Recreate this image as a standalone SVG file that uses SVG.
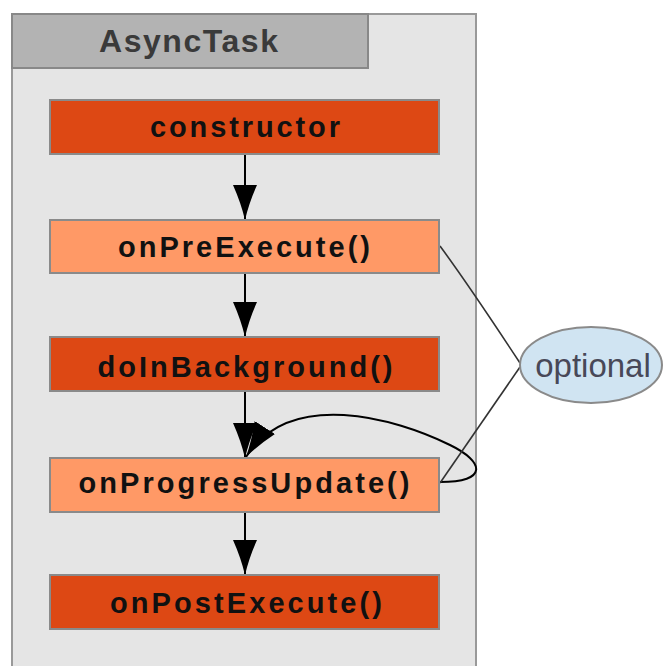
<svg xmlns="http://www.w3.org/2000/svg" width="663" height="666" viewBox="0 0 663 666">
  <style>
    .frame { fill: #e5e5e5; stroke: #999999; stroke-width: 2; }
    .tab { fill: #b3b3b3; stroke: #888888; stroke-width: 2; }
    .tabtxt { font-family: "Liberation Sans", Arial, sans-serif; font-weight: bold; font-size: 32px; fill: #3a3a3a; }
    .dark { fill: #dd4814; stroke: #8a8a8a; stroke-width: 2; }
    .light { fill: #ff9966; stroke: #8a8a8a; stroke-width: 2; }
    .lbl { font-family: "Liberation Sans", Arial, sans-serif; font-weight: bold; font-size: 29px; fill: #111111; text-anchor: middle; }
    .opt { fill: #d0e4f2; stroke: #8a8a8a; stroke-width: 2; }
    .opttxt { font-family: "Liberation Sans", Arial, sans-serif; font-size: 33px; fill: #484858; text-anchor: middle; }
    .flow { fill: none; stroke: #000000; stroke-width: 2; }
    .link { fill: none; stroke: #333333; stroke-width: 1.6; }
  </style>
  <defs>
    <marker id="head" markerUnits="userSpaceOnUse" markerWidth="36" markerHeight="26" refX="35" refY="12" orient="auto">
      <path d="M0,0 Q18,8 35,12 Q18,16 0,24 Z" fill="#000000"/>
    </marker>
  </defs>

  <rect width="663" height="666" fill="#ffffff"/>

  <g id="container">
    <rect class="frame" x="12" y="14" width="464" height="700"/>
    <rect class="tab" x="12" y="14" width="356" height="54"/>
    <text class="tabtxt" x="99" y="52" textLength="179" lengthAdjust="spacing">AsyncTask</text>
  </g>

  <g id="connectors">
    <path class="flow" d="M245 154 V220" marker-end="url(#head)"/>
    <path class="flow" d="M245 273 V337" marker-end="url(#head)"/>
    <path class="flow" d="M245 391 V458" marker-end="url(#head)"/>
    <path class="flow" d="M245 512 V575" marker-end="url(#head)"/>
    <path class="flow" d="M440 482 C488 482, 485 462, 450 445 C395 418, 290 388, 246 457" marker-end="url(#head)"/>
    <path class="link" d="M440 246 Q468 284 520 363"/>
    <path class="link" d="M520 367 L440 483"/>
  </g>

  <g id="constructor">
    <rect class="dark" x="50" y="100" width="389" height="54"/>
    <text class="lbl" x="245" y="137" textLength="190" lengthAdjust="spacing">constructor</text>
  </g>

  <g id="onPreExecute">
    <rect class="light" x="50" y="220" width="389" height="53"/>
    <text class="lbl" x="244" y="257" textLength="252" lengthAdjust="spacing">onPreExecute()</text>
  </g>

  <g id="doInBackground">
    <rect class="dark" x="50" y="337" width="389" height="54"/>
    <text class="lbl" x="245" y="377" textLength="295" lengthAdjust="spacing">doInBackground()</text>
  </g>

  <g id="onProgressUpdate">
    <rect class="light" x="50" y="458" width="389" height="54"/>
    <text class="lbl" x="244" y="493" textLength="331" lengthAdjust="spacing">onProgressUpdate()</text>
  </g>

  <g id="onPostExecute">
    <rect class="dark" x="50" y="575" width="389" height="54"/>
    <text class="lbl" x="246" y="613" textLength="272" lengthAdjust="spacing">onPostExecute()</text>
  </g>

  <g id="optional">
    <ellipse class="opt" cx="591" cy="365" rx="71" ry="38"/>
    <text class="opttxt" x="593" y="377">optional</text>
  </g>
</svg>
